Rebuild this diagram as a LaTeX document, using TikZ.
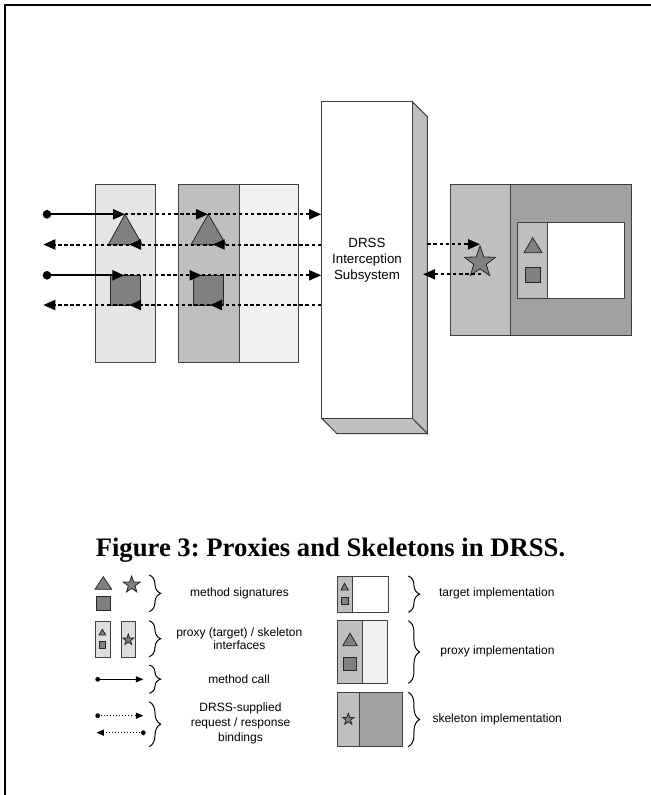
\documentclass[tikz,border=0pt]{standalone}
\usepackage{fontspec}
\setmainfont{Liberation Serif}
\setsansfont{Liberation Sans}
\usetikzlibrary{arrows.meta,shapes.geometric,decorations.pathreplacing}
\frenchspacing
\tikzset{
  frameline/.style={line width=1.5pt, draw=black},
  boxline/.style={draw=black!75, line width=0.75pt},
  sigshape/.style={draw=black!85, fill=black!50, line width=0.6pt},
  mainarrow/.style={line width=1.5pt, -{Triangle[length=9pt,width=7.5pt]}},
  dasharrow/.style={mainarrow, dash pattern=on 2.6pt off 2pt},
  bigdot/.style={circle, fill=black, inner sep=0pt, minimum size=6.5pt},
  smalldot/.style={circle, fill=black, inner sep=0pt, minimum size=3.6pt},
  legarrow/.style={line width=0.75pt, -{Triangle[length=5.5pt,width=4.5pt]}},
  legdotted/.style={legarrow, dash pattern=on 0.7pt off 1.6pt},
  rbrace/.style={decorate, decoration={brace, amplitude=8.5pt}, line width=0.75pt},
  legtext/.style={font=\fontsize{9}{11.5}\selectfont\sffamily, align=center, inner sep=0pt},
  starshape/.style={star, star points=5, star point ratio=2.5, inner sep=0pt, draw=black!85, fill=black!50, line width=0.6pt},
  midgray/.style={fill=black!25},
  darkdots/.style={fill=black!37},
  lightdots/.style={fill=black!6},
}
\begin{document}
\begin{tikzpicture}[x=0.75pt,y=-0.75pt]
\useasboundingbox (0,0) rectangle (650,795);
% frame
\draw[frameline] (4.5,810) -- (4.5,5.5) -- (665,5.5);

% ---------- left interface box ----------
\draw[boxline, fill=black!10] (95.3,184.7) rectangle (155.7,362);
% proxy implementation box
\draw[boxline, midgray] (178.3,184.7) rectangle (239,362);
\draw[boxline, lightdots] (239,184.7) rectangle (298.7,362);

% method signatures
\draw[sigshape] (125,214.3) -- (108.3,244.7) -- (142.3,244.7) -- cycle;
\draw[sigshape] (208.3,214.3) -- (191,244.7) -- (226,244.7) -- cycle;
\draw[sigshape] (110.7,275.3) rectangle (140.3,305);
\draw[sigshape] (193.3,275.3) rectangle (223.3,305);

% ---------- DRSS interception subsystem ----------
\draw[boxline, midgray] (412.3,101.7) -- (427.3,116.7) -- (427.3,433.5) -- (412.3,418.3) -- cycle;
\draw[boxline, midgray] (321.7,418.3) -- (336.7,433.5) -- (427.3,433.5) -- (412.3,418.3) -- cycle;
\node[boxline, fill=white, minimum width=67.95pt, minimum height=237.45pt, inner sep=0pt,
      font=\fontsize{10}{12}\selectfont\sffamily, align=center] (drss) at (367,260)
      {DRSS\\Interception\\Subsystem};

% row coordinates
\coordinate (r1) at (0,214.3);
\coordinate (r2) at (0,244.5);
\coordinate (r3) at (0,275.3);
\coordinate (r4) at (0,305);

% row 1
\node[bigdot] (d1) at (47,214.3) {};
\coordinate (a1) at (125,214.3);
\coordinate (b1) at (208,214.3);
\draw[mainarrow] (d1.center) -- (a1);
\draw[dasharrow] (a1) -- (b1);
\draw[dasharrow] (b1) -- (drss.west |- r1);
% row 2
\coordinate (a2) at (212.7,244.5);
\coordinate (b2) at (129,244.5);
\coordinate (c2) at (43.3,244.5);
\draw[dasharrow] (drss.west |- r2) -- (a2);
\draw[dasharrow] (a2) -- (b2);
\draw[dasharrow] (b2) -- (c2);
% row 3
\node[bigdot] (d3) at (47,275.3) {};
\coordinate (a3) at (124.3,275.3);
\coordinate (b3) at (201.7,275.3);
\draw[mainarrow] (d3.center) -- (a3);
\draw[dasharrow] (a3) -- (b3);
\draw[dasharrow] (b3) -- (drss.west |- r3);
% row 4
\coordinate (a4) at (210,305);
\coordinate (b4) at (129,305);
\coordinate (c4) at (43.3,305);
\draw[dasharrow] (drss.west |- r4) -- (a4);
\draw[dasharrow] (a4) -- (b4);
\draw[dasharrow] (b4) -- (c4);

% ---------- skeleton implementation (right) ----------
\draw[boxline, midgray] (450,184.3) rectangle (510.7,335.7);
\draw[boxline, darkdots] (510.7,184.3) rectangle (631.7,335.7);
\draw[boxline, midgray] (517.7,222.7) rectangle (547.7,298.3);
\draw[boxline, fill=white] (547.7,222.7) rectangle (624,298.3);
\draw[sigshape] (532.7,237.7) -- (524,252.7) -- (542,252.7) -- cycle;
\draw[sigshape] (525.3,267.3) rectangle (540.7,282.7);
\node[starshape, minimum size=24.5pt] (skstar) at (480,262.3) {};

\coordinate (rs2) at (427.3,244.3);
\coordinate (re2) at (480,244.3);
\coordinate (rs3) at (481,274.3);
\coordinate (re3) at (423,274.3);
\draw[dasharrow] (rs2) -- (re2);
\draw[dasharrow] (rs3) -- (re3);

% ---------- caption ----------
\node[anchor=base, inner sep=0pt, font=\fontsize{20}{24}\selectfont\bfseries] (cap) at (330.5,556.7)
  {Figure 3: Proxies and Skeletons in DRSS.};

% ---------- legend, left column ----------
\draw[sigshape] (103.3,576.7) -- (95,589.3) -- (111.7,589.3) -- cycle;
\draw[sigshape] (96,596) rectangle (110,610);
\node[starshape, minimum size=13.2pt] (lstar) at (131.7,584.8) {};
\draw[rbrace] (149.3,575) -- (149.3,611.7);
\node[legtext] (t1) at (239.5,593.3) {method signatures};

\draw[boxline, fill=black!13] (95,621) rectangle (110,657.7);
\draw[sigshape] (102.3,629.3) -- (99,635) -- (105.7,635) -- cycle;
\draw[sigshape] (99,641.7) rectangle (105.3,648);
\draw[boxline, fill=black!13] (121,621) rectangle (135.7,657.7);
\node[starshape, minimum size=8.6pt] (istar) at (128.3,639.8) {};
\draw[rbrace] (149.3,620.7) -- (149.3,656.7);
\node[legtext, font=\fontsize{9}{9.5}\selectfont\sffamily] (t2) at (239.3,638.5) {proxy (target) / skeleton\\interfaces};

\node[smalldot] (ld1) at (97.7,679.3) {};
\coordinate (le1) at (143.3,679.3);
\draw[legarrow] (ld1.center) -- (le1);
\draw[rbrace] (149.3,665) -- (149.3,693.3);
\node[legtext] (t3) at (239,679.3) {method call};

\node[smalldot] (ld2) at (97.7,715.7) {};
\coordinate (le2) at (143.3,715.7);
\draw[legdotted] (ld2.center) -- (le2);
\node[smalldot] (ld3) at (143.3,732.7) {};
\coordinate (le3) at (96.5,732.7);
\draw[legdotted] (ld3.center) -- (le3);
\draw[rbrace] (149.3,701.7) -- (149.3,746.7);
\node[legtext, font=\fontsize{9}{11.2}\selectfont\sffamily] (t4) at (240.5,723.5) {DRSS-supplied\\request / response\\bindings};

% ---------- legend, right column ----------
\draw[boxline, midgray] (337.3,576) rectangle (352.3,612.3);
\draw[boxline, fill=white] (352.3,576) rectangle (388,612.3);
\draw[sigshape] (344.5,583.3) -- (341,590) -- (348.3,590) -- cycle;
\draw[sigshape] (341.3,597.7) rectangle (348,604.3);
\draw[rbrace] (408.3,576) -- (408.3,612.3);
\node[legtext] (t5) at (496.8,593.3) {target implementation};

\draw[boxline, midgray] (337.3,620.7) rectangle (362.3,683.3);
\draw[boxline, lightdots] (362.3,620.7) rectangle (387.3,683.3);
\draw[sigshape] (350,633.3) -- (342.7,645.7) -- (357.3,645.7) -- cycle;
\draw[sigshape] (343.3,657.3) rectangle (356,670);
\draw[rbrace] (408.3,620.7) -- (408.3,683.3);
\node[legtext] (t6) at (497.5,651.7) {proxy implementation};

\draw[boxline, midgray] (337.3,692.3) rectangle (359,746.7);
\draw[boxline, darkdots] (359,692.3) rectangle (402.3,746.7);
\node[starshape, minimum size=9pt] (sstar) at (348.3,719.3) {};
\draw[rbrace] (408.3,692.3) -- (408.3,746.7);
\node[legtext] (t7) at (497.2,719) {skeleton implementation};
\end{tikzpicture}
\end{document}
